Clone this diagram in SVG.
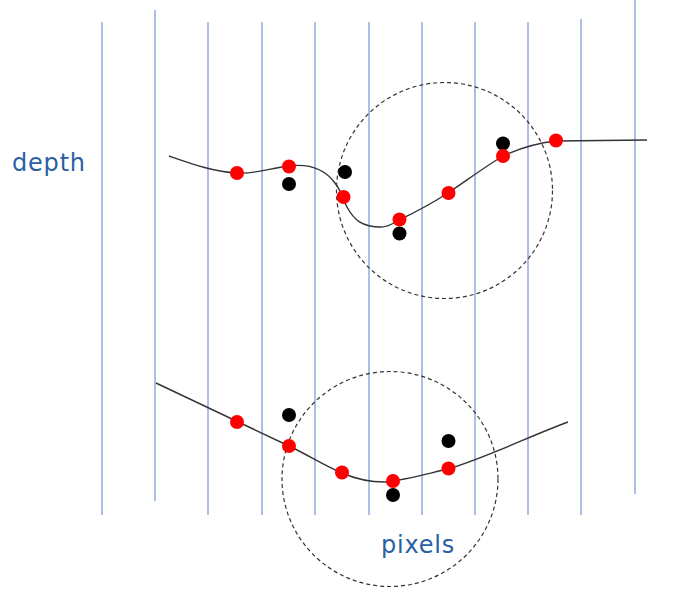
<svg xmlns="http://www.w3.org/2000/svg" width="683" height="591" viewBox="0 0 683 591">
<style>
.grid line{stroke:#7496d2;stroke-width:1.2}
.curve{fill:none;stroke:#333;stroke-width:1.4}
.ring{fill:none;stroke:#333;stroke-width:1.2;stroke-dasharray:4 3}
.red{fill:#ff0000}
.blk{fill:#000}
.lbl{font-family:"DejaVu Sans",Verdana,sans-serif;font-size:24px;letter-spacing:0.8px;fill:#2a5fa5}
</style>
<rect width="683" height="591" fill="#fff"/>
<g id="grid" class="grid">
<line x1="102" y1="22" x2="102" y2="515"/>
<line x1="155" y1="10" x2="155" y2="501"/>
<line x1="208" y1="22" x2="208" y2="515"/>
<line x1="262" y1="22" x2="262" y2="515"/>
<line x1="315" y1="22" x2="315" y2="515"/>
<line x1="369" y1="22" x2="369" y2="515"/>
<line x1="422" y1="22" x2="422" y2="515"/>
<line x1="475" y1="22" x2="475" y2="515"/>
<line x1="528" y1="22" x2="528" y2="515"/>
<line x1="581" y1="19" x2="581" y2="515"/>
<line x1="635" y1="0" x2="635" y2="494"/>
</g>
<g id="connectors">
<path class="curve" d="M169,156 C192,164 214,172 237,173 C258,174 270,168 289,166 C305,164 323,167 335,183 C342,192 343,200 347,207 C354,220 362,227 381,227 C390,227 394,222 399,220 C418,211 434,202 448,193 C466,181 486,166 503,156 C520,148 538,143 556,141 L647,140"/>
<path class="curve" d="M156,383 L289,446 C308,455 325,466 342,473 C358,480 370,482 385,482 C405,480 426,474 448,469 C490,456 530,436 568,422"/>
<ellipse class="ring" cx="444.5" cy="190.5" rx="108" ry="108"/>
<ellipse class="ring" cx="390" cy="479" rx="108" ry="107.5"/>
</g>
<g id="top-points">
<circle class="blk" cx="289" cy="184" r="7"/>
<circle class="blk" cx="345" cy="172" r="7"/>
<circle class="blk" cx="399.5" cy="233.5" r="7"/>
<circle class="blk" cx="503" cy="143.5" r="7"/>
<circle class="red" cx="237" cy="173" r="7"/>
<circle class="red" cx="289" cy="166.5" r="7"/>
<circle class="red" cx="343.5" cy="197" r="7"/>
<circle class="red" cx="399.5" cy="219.5" r="7"/>
<circle class="red" cx="448.5" cy="193" r="7"/>
<circle class="red" cx="503" cy="156" r="7"/>
<circle class="red" cx="556" cy="140.5" r="7"/>
</g>
<g id="bottom-points">
<circle class="blk" cx="289" cy="415" r="7"/>
<circle class="blk" cx="393" cy="495" r="7"/>
<circle class="blk" cx="448.5" cy="441" r="7"/>
<circle class="red" cx="237" cy="422" r="7"/>
<circle class="red" cx="289" cy="446" r="7"/>
<circle class="red" cx="342" cy="472.5" r="7"/>
<circle class="red" cx="393" cy="481" r="7"/>
<circle class="red" cx="448.5" cy="468.5" r="7"/>
</g>
<g id="label-depth"><text class="lbl" x="12" y="171">depth</text></g>
<g id="label-pixels"><text class="lbl" x="381" y="553">pixels</text></g>
</svg>
